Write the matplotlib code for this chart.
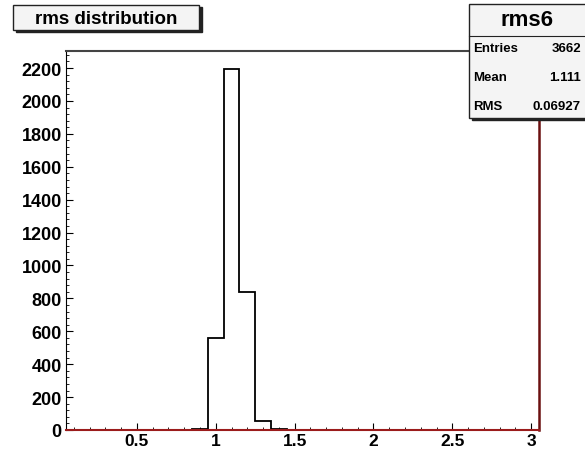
import numpy as np
import matplotlib
matplotlib.use("Agg")
import matplotlib.pyplot as plt
from matplotlib.patches import Rectangle
from matplotlib.ticker import MultipleLocator

# histogram data (30 bins of width 0.1)
bin_edges = np.round(np.arange(0.05, 3.051, 0.1), 2)
counts = [0, 0, 0, 0, 0, 0, 0, 0, 5, 557,
          2194, 840, 53, 6, 0, 0, 0, 0, 0, 0,
          0, 0, 0, 0, 0, 0, 0, 0, 0, 0]
y_ticks = [0, 200, 400, 600, 800, 1000, 1200, 1400, 1600, 1800, 2000, 2200]
x_ticks = [0.5, 1, 1.5, 2, 2.5, 3]
hist_title = "rms distribution"
stats_name = "rms6"
stats_rows = [("Entries", "3662"), ("Mean", "1.111"), ("RMS", "0.06927")]

W, H = 585, 452
plt.rcParams['font.family'] = ['Liberation Sans', 'DejaVu Sans']
fig = plt.figure(figsize=(W / 100, H / 100), dpi=100)
fig.patch.set_facecolor("white")


def px(x, y):
    # pixel coords (top-left origin) -> figure fraction
    return x / W, 1 - y / H


# axes frame in pixels
l, r, t, b = 66, 539, 52, 431
ax = fig.add_axes([l / W, 1 - b / H, (r - l) / W, (b - t) / H])

ax.stairs(counts, bin_edges, color="black", linewidth=1.3)

ax.set_xlim(bin_edges[0], bin_edges[-1])
ax.set_ylim(0, max(counts) * 1.05)
ax.set_xticks(x_ticks)
ax.set_xticklabels(["0.5", "1", "1.5", "2", "2.5", "3"])
ax.set_yticks(y_ticks)
ax.xaxis.set_minor_locator(MultipleLocator(0.1))
ax.yaxis.set_minor_locator(MultipleLocator(40))
ax.tick_params(which="both", direction="in", top=False, right=False,
               labelsize=13)
ax.tick_params(which="major", length=5, width=0.8)
ax.tick_params(which="minor", length=2.5, width=0.6)
ax.tick_params(axis="y", pad=3)
ax.tick_params(axis="x", pad=2, labelsize=12.5)
for lab in ax.get_xticklabels() + ax.get_yticklabels():
    lab.set_fontweight("bold")

ax.spines["left"].set_color("black")
ax.spines["top"].set_color("#444444")
ax.spines["top"].set_linewidth(1.5)
ax.spines["bottom"].set_color("#9b1c1c")
ax.spines["bottom"].set_linewidth(1.5)
ax.spines["right"].set_color("#6b1010")
ax.spines["right"].set_linewidth(1.8)

# title box with shadow
x0, y0, x1, y1 = 13, 6, 199, 31
fig.patches.append(Rectangle(px(x0 + 3, y1 + 2), (x1 - x0) / W, (y1 - y0) / H,
                             transform=fig.transFigure, color="#222222",
                             zorder=5))
fig.patches.append(Rectangle(px(x0, y1), (x1 - x0) / W, (y1 - y0) / H,
                             transform=fig.transFigure, facecolor="#f4f4f4",
                             edgecolor="#222222", linewidth=1, zorder=6))
fig.text(*px((x0 + x1) / 2, (y0 + y1) / 2 + 1), hist_title, ha="center",
         va="center", fontsize=13.5, fontweight="bold", zorder=7)

# stats box
sx0, sy0, sx1, sy1 = 469, 5, 586, 119
fig.patches.append(Rectangle(px(sx0 + 3, sy1 + 2), (sx1 - sx0) / W,
                             (sy1 - sy0) / H, transform=fig.transFigure,
                             color="#222222", zorder=5))
fig.patches.append(Rectangle(px(sx0, sy1), (sx1 - sx0) / W, (sy1 - sy0) / H,
                             transform=fig.transFigure, facecolor="#f4f4f4",
                             edgecolor="#222222", linewidth=1, zorder=6))
fig.add_artist(plt.Line2D([sx0 / W, sx1 / W], [1 - 37 / H, 1 - 37 / H],
                          transform=fig.transFigure, color="#222222",
                          linewidth=0.8, zorder=7))
fig.text(*px(527, 21), stats_name, ha="center", va="center", fontsize=16,
         fontweight="bold", zorder=7)
row_y = [49, 78, 107]
for (name, val), yy in zip(stats_rows, row_y):
    fig.text(*px(473, yy), name, ha="left", va="center", fontsize=9.5,
             fontweight="bold", zorder=7)
    fig.text(*px(581, yy), val, ha="right", va="center", fontsize=9.5,
             fontweight="bold", zorder=7)

fig.savefig("out.png", dpi=100)
